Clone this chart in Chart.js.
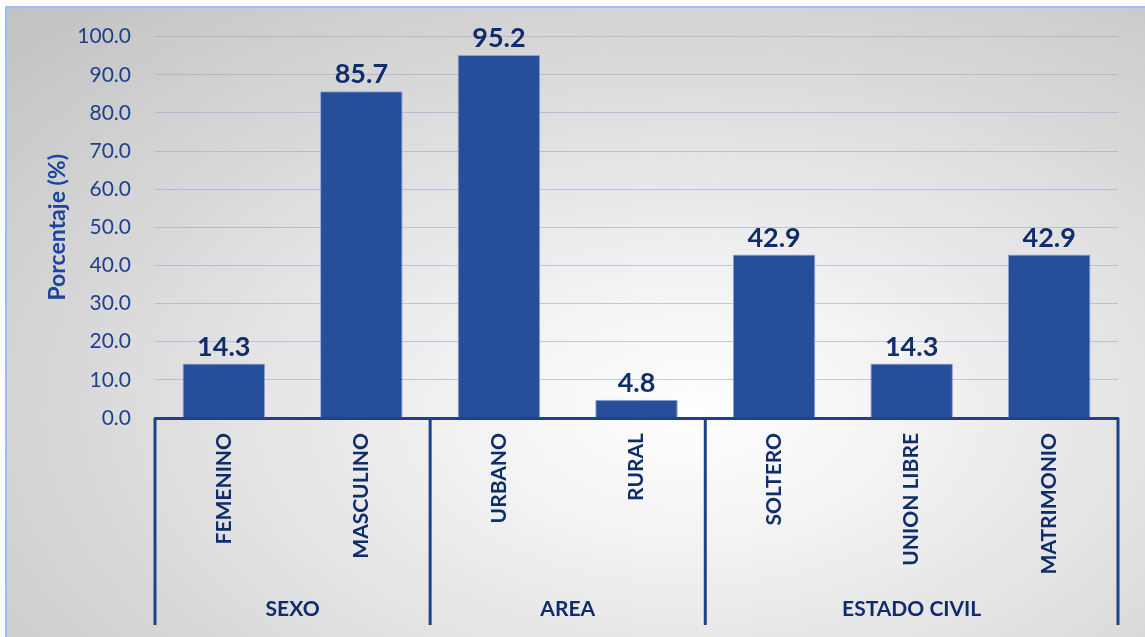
<!DOCTYPE html>
<html>
<head>
<meta charset="utf-8">
<script src="https://cdn.jsdelivr.net/npm/chart.js@4"></script>
<style>
  html, body { margin: 0; padding: 0; background: #fff; }
  #wrap { position: relative; width: 1145px; height: 637px; overflow: hidden; }
  #frame {
    position: absolute; left: 5px; top: 6px; width: 1140px; height: 631px;
    border-left: 2px solid #9cbcfb; border-top: 2px solid #9cbcfb;
    background: radial-gradient(ellipse farthest-corner at 60% 64%, #ffffff 0%, #f3f3f3 22%, #c1c1c1 100%);
  }
  #chart { position: absolute; left: 0; top: 0; }
</style>
</head>
<body>
<div id="wrap">
  <div id="frame"></div>
  <canvas id="chart" width="1145" height="637"></canvas>
</div>
<script>
var categories = ['FEMENINO', 'MASCULINO', 'URBANO', 'RURAL', 'SOLTERO', 'UNION LIBRE', 'MATRIMONIO'];
var values = [14.3, 85.7, 95.2, 4.8, 42.9, 14.3, 42.9];
var groups = ['SEXO', 'AREA', 'ESTADO CIVIL'];
var groupSizes = [2, 2, 3];

var navy = '#0f2c6b';
var axisBlue = '#1f3f8f';
var font = 'Lato, "Open Sans", sans-serif';

// value labels above each bar
var valueLabels = {
    id: 'valueLabels',
    afterDatasetsDraw: function (chart) {
        var ctx = chart.ctx;
        var meta = chart.getDatasetMeta(0);
        ctx.save();
        ctx.font = 'bold 27px ' + font;
        ctx.fillStyle = navy;
        ctx.textAlign = 'center';
        ctx.textBaseline = 'bottom';
        meta.data.forEach(function (bar, i) {
            ctx.fillText(values[i].toFixed(1), bar.x, bar.y - 3);
        });
        ctx.restore();
    }
};

// group separators and group names under the category labels
var groupAxis = {
    id: 'groupAxis',
    afterDraw: function (chart) {
        var ctx = chart.ctx;
        var x = chart.scales.x;
        var area = chart.chartArea;
        var half = (x.getPixelForValue(1) - x.getPixelForValue(0)) / 2;
        var bottom = 625;
        ctx.save();
        ctx.strokeStyle = axisBlue;
        ctx.lineWidth = 3;
        ctx.font = 'bold 21px ' + font;
        ctx.fillStyle = navy;
        ctx.textAlign = 'center';
        ctx.textBaseline = 'middle';

        var start = 0;
        var edges = [area.left];
        groups.forEach(function (name, g) {
            var end = start + groupSizes[g] - 1;
            var left = x.getPixelForValue(start) - half;
            var right = x.getPixelForValue(end) + half;
            edges.push(right);
            ctx.fillText(name, (left + right) / 2, 609);
            start = end + 1;
        });
        edges.forEach(function (ex) {
            ctx.beginPath();
            ctx.moveTo(ex, area.bottom);
            ctx.lineTo(ex, bottom);
            ctx.stroke();
        });
        ctx.restore();
    }
};

new Chart(document.getElementById('chart'), {
    type: 'bar',
    data: {
        labels: categories,
        datasets: [{
            data: values,
            backgroundColor: '#264e9a',
            borderColor: 'rgba(130,155,210,0.9)',
            borderWidth: 1,
            barPercentage: 0.6,
            categoryPercentage: 1
        }]
    },
    options: {
        responsive: false,
        animation: false,
        layout: { padding: { top: 36, right: 27, left: 0, bottom: 0 } },
        plugins: {
            legend: { display: false },
            tooltip: { enabled: false }
        },
        scales: {
            x: {
                z: 1,
                grid: { display: false, drawTicks: false },
                border: { display: true, color: axisBlue, width: 3 },
                ticks: {
                    autoSkip: false,
                    minRotation: 90,
                    maxRotation: 90,
                    padding: 15,
                    color: navy,
                    font: { family: font, size: 21, weight: 'bold' }
                },
                afterFit: function (scale) { scale.height = 219; }
            },
            y: {
                z: 1,
                min: 0,
                max: 100,
                grid: { color: 'rgba(150,165,200,0.55)', drawTicks: false },
                border: { display: false },
                ticks: {
                    stepSize: 10,
                    padding: 24,
                    color: axisBlue,
                    font: { family: font, size: 21 },
                    callback: function (v) { return v.toFixed(1); }
                },
                title: {
                    display: true,
                    text: 'Porcentaje (%)',
                    color: '#1b44a0',
                    padding: { top: 44, bottom: 0 },
                    font: { family: font, size: 23, weight: 'bold' }
                },
                afterFit: function (scale) { scale.width = 155; }
            }
        }
    },
    plugins: [valueLabels, groupAxis]
});
</script>
</body>
</html>
